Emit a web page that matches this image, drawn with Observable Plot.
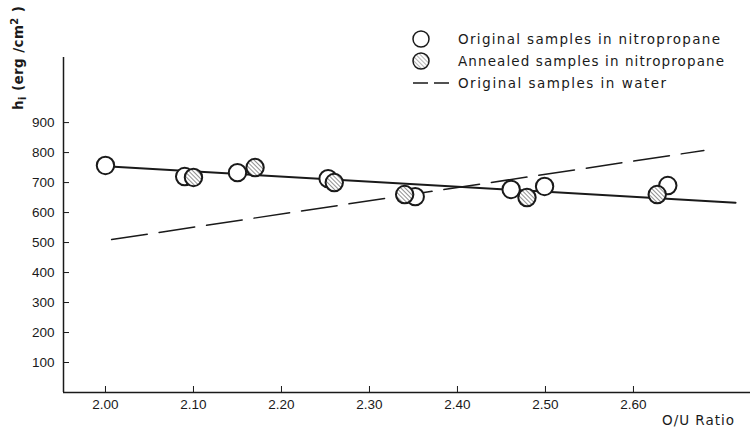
<!DOCTYPE html>
<html>
<head>
<meta charset="utf-8">
<script src="https://cdn.jsdelivr.net/npm/d3@7"></script>
<script src="https://cdn.jsdelivr.net/npm/@observablehq/plot@0.6"></script>
<style>
  html, body { margin: 0; padding: 0; background: #fff; }
  #wrap { position: relative; width: 753px; height: 430px; overflow: hidden; }
  #wrap svg { position: absolute; left: 0; top: 0; }
  #wrap g[aria-label*="tick label"], #wrap g[aria-label*="tick label"] text { font-size: 13.5px !important; font-family: "Liberation Sans", sans-serif; }
  .ov text { font-family: "DejaVu Sans", sans-serif; fill: #1a1a1a; }
</style>
</head>
<body>
<div id="wrap"></div>
<script>
// ---- data ----
const openX = [2.00, 2.09, 2.15, 2.253, 2.352, 2.461, 2.499, 2.639];
const openY = [757, 720, 733, 713, 653, 677, 687, 690];
const hatchX = [2.10, 2.17, 2.26, 2.34, 2.479, 2.627];
const hatchY = [717, 750, 700, 660, 650, 660];
const fitX = [2.00, 2.716];          // solid fitted line (nitropropane)
const fitY = [754, 633];
const waterX = [2.007, 2.68];        // dashed line (water)
const waterY = [510, 807];
const xTicks = [2.00, 2.10, 2.20, 2.30, 2.40, 2.50, 2.60];
const yTicks = [100, 200, 300, 400, 500, 600, 700, 800, 900];
const xLabel = "O/U Ratio";
const legendLabels = ["Original samples in nitropropane", "Annealed samples in nitropropane", "Original samples in water"];

const openPts = openX.map((x, i) => ({x, y: openY[i]}));
const hatchPts = hatchX.map((x, i) => ({x, y: hatchY[i]}));
const fitPts = fitX.map((x, i) => ({x, y: fitY[i]}));
const waterPts = waterX.map((x, i) => ({x, y: waterY[i]}));

const ink = "#1a1a1a";
const xDomain = [1.9523, 2.733];
const yDomain = [0, 1117];

const chart = Plot.plot({
  width: 753,
  height: 430,
  marginLeft: 63,
  marginRight: 3,
  marginTop: 57,
  marginBottom: 38,
  style: {fontFamily: "'Liberation Sans', sans-serif", fontSize: "13.5px", color: ink, background: "transparent"},
  x: {domain: xDomain},
  y: {domain: yDomain},
  marks: [
    Plot.ruleY([yDomain[0]], {stroke: ink, strokeWidth: 1.5}),
    Plot.ruleX([xDomain[0]], {stroke: ink, strokeWidth: 1.5}),
    Plot.axisX({ticks: xTicks, tickFormat: d3.format(".2f"), tickSize: -6, tickPadding: 13, label: null, stroke: ink, fill: ink, fontSize: 13.5}),
    Plot.axisY({ticks: yTicks, tickFormat: d => String(d), tickSize: -6, tickPadding: 15, label: null, stroke: ink, fill: ink, fontSize: 13.5}),
    Plot.line(waterPts, {x: "x", y: "y", stroke: ink, strokeWidth: 1.5, strokeDasharray: "36,12"}),
    Plot.line(fitPts, {x: "x", y: "y", stroke: ink, strokeWidth: 2}),
    Plot.dot(openPts, {x: "x", y: "y", r: 8.7, fill: "white", stroke: ink, strokeWidth: 2}),
    Plot.dot(hatchPts, {x: "x", y: "y", r: 8.7, fill: "url(#hatch)", stroke: ink, strokeWidth: 2})
  ]
});

// enlarge tick labels (some Plot builds ignore fontSize on axis marks)
chart.querySelectorAll('g[aria-label*="tick label"]').forEach(g => {
  g.setAttribute("font-size", "13.5");
  g.style.fontSize = "13.5px";
  g.querySelectorAll("text").forEach(t => { t.setAttribute("font-size", "13.5"); t.style.fontSize = "13.5px"; });
});

// hatch pattern definition
const ns = "http://www.w3.org/2000/svg";
const defs = document.createElementNS(ns, "defs");
defs.innerHTML = `<pattern id="hatch" patternUnits="userSpaceOnUse" width="3" height="3" patternTransform="rotate(-45)">
  <rect width="3" height="3" fill="#fff"/>
  <line x1="0" y1="0" x2="0" y2="3" stroke="#555" stroke-width="1.3"/>
</pattern>`;
chart.insertBefore(defs, chart.firstChild);

const wrap = document.getElementById("wrap");
wrap.appendChild(chart);

// overlay: legend and axis titles
const ov = document.createElementNS(ns, "svg");
ov.setAttribute("class", "ov");
ov.setAttribute("width", 753);
ov.setAttribute("height", 430);
ov.innerHTML = `
  <defs>
    <pattern id="hatch2" patternUnits="userSpaceOnUse" width="3" height="3" patternTransform="rotate(-45)">
      <rect width="3" height="3" fill="#fff"/>
      <line x1="0" y1="0" x2="0" y2="3" stroke="#777" stroke-width="1.1"/>
    </pattern>
  </defs>
  <circle cx="421" cy="39" r="8" fill="white" stroke="${ink}" stroke-width="1.5"/>
  <circle cx="421" cy="61" r="8" fill="url(#hatch2)" stroke="${ink}" stroke-width="1.5"/>
  <line x1="413" y1="83" x2="453" y2="83" stroke="${ink}" stroke-width="1.3" stroke-dasharray="15,6"/>
  <text x="458" y="44" font-size="13.5" textLength="262" lengthAdjust="spacing">${legendLabels[0]}</text>
  <text x="458" y="66" font-size="13.5" textLength="266" lengthAdjust="spacing">${legendLabels[1]}</text>
  <text x="458" y="88" font-size="13.5" textLength="208" lengthAdjust="spacing">${legendLabels[2]}</text>
  <text x="662" y="425" font-size="13.5" textLength="72" lengthAdjust="spacing">${xLabel}</text>
  <text transform="translate(23,110) rotate(-90)" font-size="13.5" font-weight="bold" textLength="104" lengthAdjust="spacing">h<tspan font-size="10" dy="3">i</tspan><tspan dy="-3"> (erg /cm</tspan><tspan font-size="10" dy="-5">2</tspan><tspan dy="5"> )</tspan></text>
`;
wrap.appendChild(ov);
</script>
</body>
</html>
